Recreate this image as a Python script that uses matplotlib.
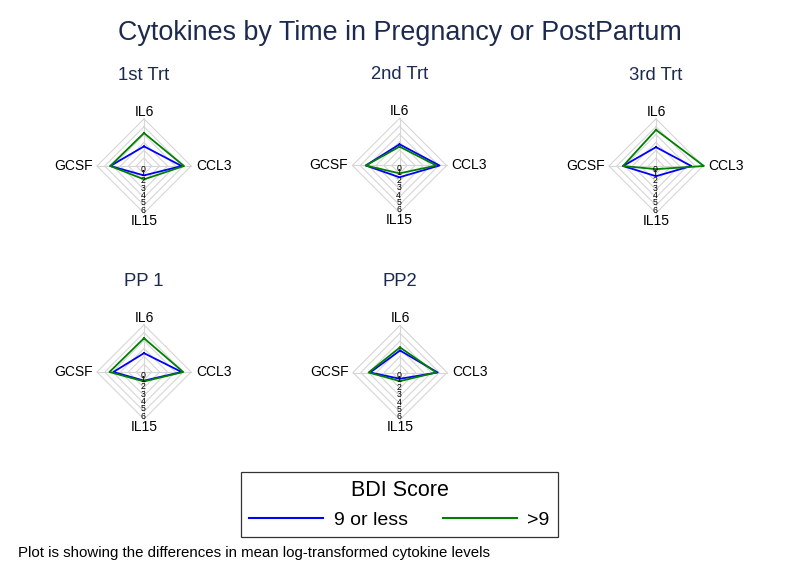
import numpy as np
import matplotlib
matplotlib.use("Agg")
import matplotlib.pyplot as plt

plt.rcParams['font.family'] = ['Liberation Sans', 'DejaVu Sans']

# ---------------- data ----------------
title = "Cytokines by Time in Pregnancy or PostPartum"
panels = ["1st Trt", "2nd Trt", "3rd Trt", "PP 1", "PP2"]
cytokines = ["IL6", "CCL3", "IL15", "GCSF"]          # up, right, down, left
tick_values = [0, 1, 2, 3, 4, 5, 6]
series_names = ["9 or less", ">9"]
low_bdi = [                                            # BDI 9 or less
    [2.5, 4.8, 1.2, 4.3],
    [2.7, 5.1, 1.5, 4.3],
    [2.4, 4.5, 1.3, 4.2],
    [2.4, 4.8, 1.1, 3.9],
    [2.8, 4.8, 0.8, 3.8],
]
high_bdi = [                                           # BDI > 9
    [4.2, 5.1, 1.7, 4.3],
    [2.4, 4.7, 1.0, 4.3],
    [4.6, 6.1, 0.4, 4.2],
    [4.3, 5.0, 1.2, 4.4],
    [3.2, 4.6, 1.1, 4.0],
]
legend_title = "BDI Score"
note = "Plot is showing the differences in mean log-transformed cytokine levels"

# ---------------- style ----------------
W, H = 800, 583
fig = plt.figure(figsize=(W / 100, H / 100), dpi=100)
navy = "#1c2a4f"
colors = ["#0000ff", "#008000"]
grid_c = "#d6d6d6"

angles = np.deg2rad([90, 0, -90, 180])
centers = [(144, 166), (399.5, 165.5), (656, 166), (144, 372), (400, 372.5)]
half_units = 9.0
px_per_unit = 7.85
half_px = half_units * px_per_unit


def radar_xy(vals):
    v = np.asarray(vals, dtype=float)
    x = v * np.cos(angles)
    y = v * np.sin(angles)
    return np.append(x, x[0]), np.append(y, y[0])


handles = []
for i, name in enumerate(panels):
    cx, cy = centers[i]
    ax = fig.add_axes([(cx - half_px) / W, 1 - (cy + half_px) / H,
                       2 * half_px / W, 2 * half_px / H])
    ax.set_xlim(-half_units, half_units)
    ax.set_ylim(-half_units, half_units)
    ax.axis("off")
    rmax = max(tick_values)
    for r in tick_values[1:]:
        gx, gy = radar_xy([r] * 4)
        ax.plot(gx, gy, color=grid_c, lw=0.8, zorder=1)
    for a in angles:
        ax.plot([0, rmax * np.cos(a)], [0, rmax * np.sin(a)], color=grid_c, lw=0.8, zorder=1)
    for t in tick_values:
        pos = 0.42 if t == 0 else t * 0.94
        ax.text(-0.1, -pos, str(t), fontsize=6.3, ha="center", va="center", zorder=4)
    for s, data in enumerate([low_bdi, high_bdi]):
        sx, sy = radar_xy(data[i])
        ln, = ax.plot(sx, sy, color=colors[s], lw=1.3, zorder=3)
        if i == 0:
            handles.append(ln)
    ax.text(0, rmax + 0.05, cytokines[0], ha="center", va="bottom", fontsize=10)
    ax.text(rmax + 0.6, 0, cytokines[1], ha="left", va="center", fontsize=10)
    ax.text(0, -rmax - 0.1, cytokines[2], ha="center", va="top", fontsize=10)
    ax.text(-rmax - 0.55, 0, cytokines[3], ha="right", va="center", fontsize=10)
    fig.text(cx / W, 1 - (cy - 91) / H, name, ha="center", va="center",
             fontsize=13.3, color=navy)

fig.text(0.5, 1 - 33 / H, title, ha="center", va="center", fontsize=19.4, color=navy)

leg = fig.legend(handles, series_names, loc="center",
                 bbox_to_anchor=(399.5 / W, 1 - 504.5 / H), ncol=2,
                 title=legend_title, fontsize=14, title_fontsize=15.5,
                 frameon=True, fancybox=False, edgecolor="black",
                 handlelength=3.8, handletextpad=0.55, columnspacing=1.8,
                 borderpad=0.45, labelspacing=0.5)
leg.get_frame().set_linewidth(0.9)
for ln in leg.get_lines():
    ln.set_linewidth(1.5)

fig.text(18 / W, 1 - 553 / H, note, ha="left", va="center", fontsize=10.8)

fig.savefig("out.png", dpi=100, facecolor="white")
